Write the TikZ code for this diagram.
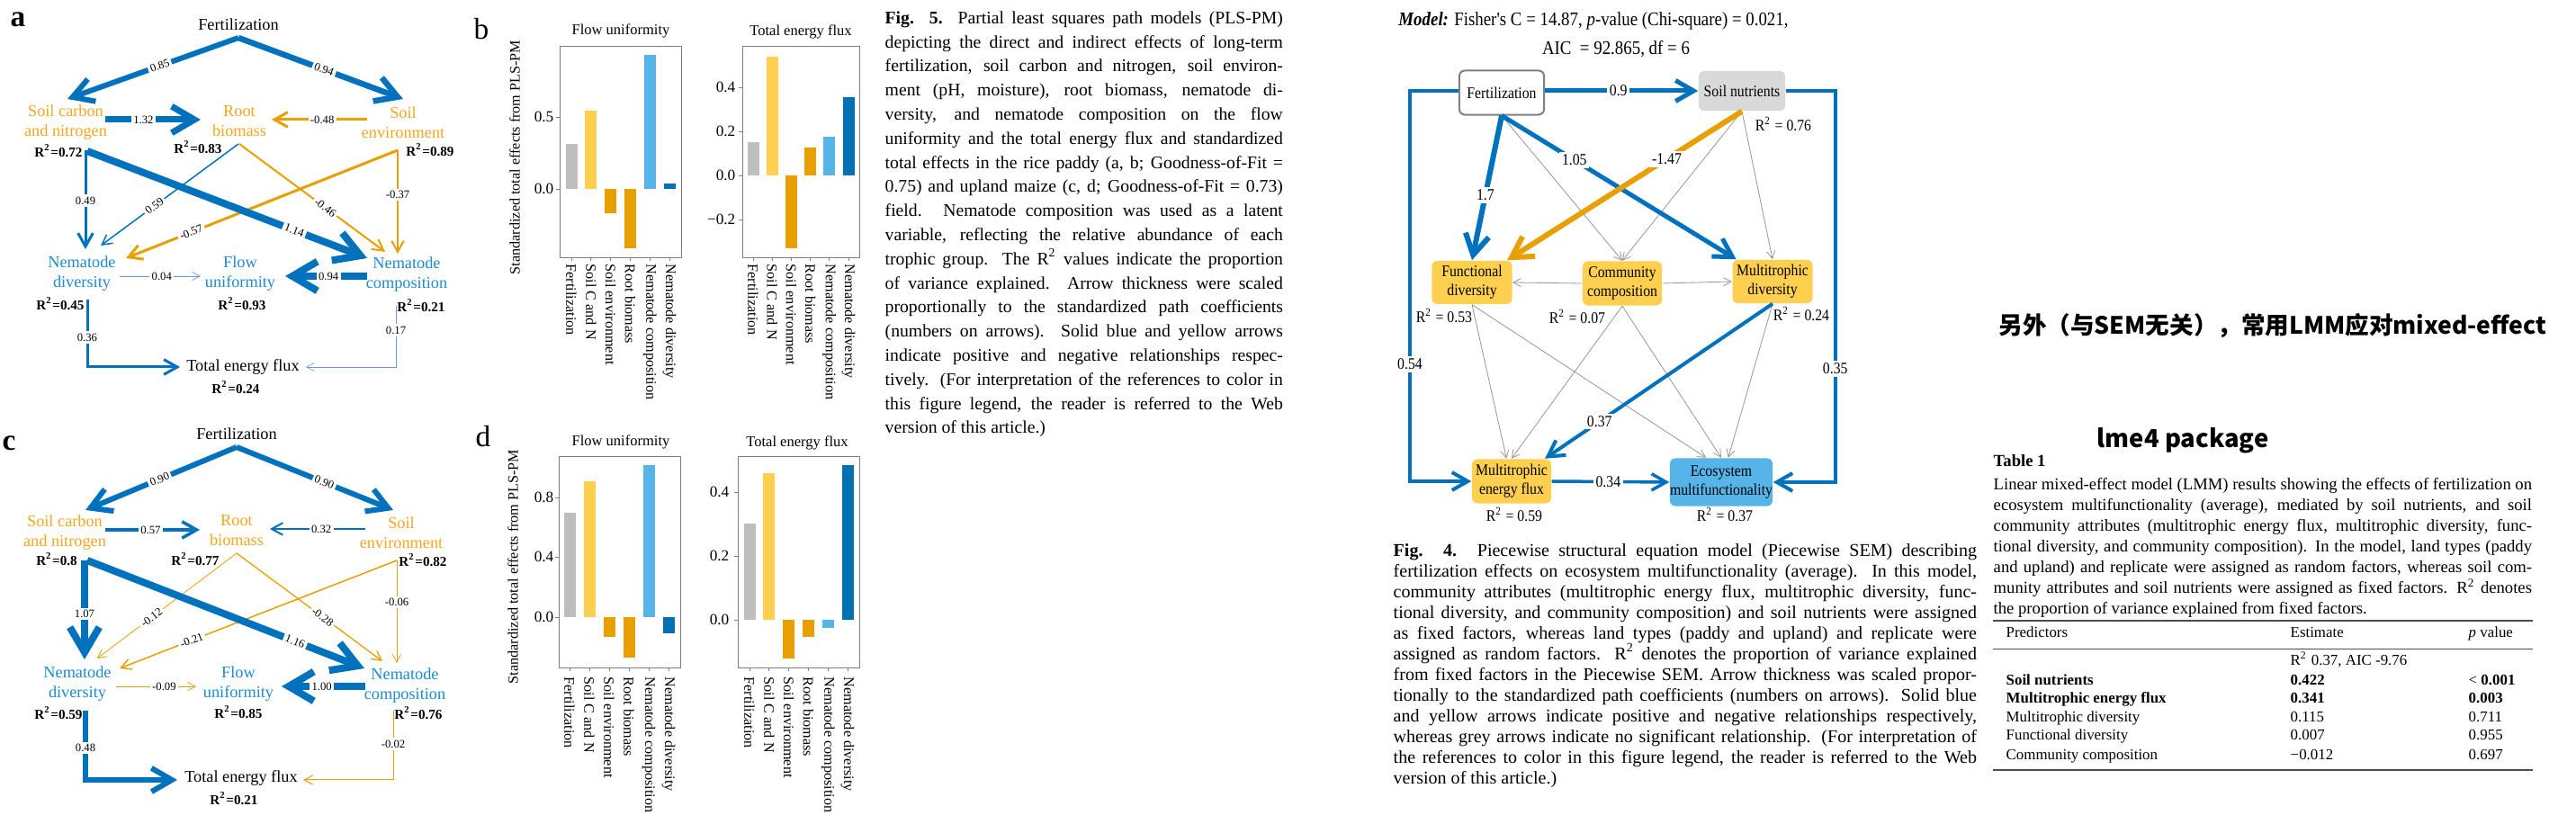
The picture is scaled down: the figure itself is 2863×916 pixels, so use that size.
\documentclass[tikz,border=0pt]{standalone}
\usepackage{fontspec}
\setmainfont{Liberation Serif}
\newfontfamily\semfont[FakeStretch=0.88]{Liberation Serif}
\newfontfamily\cjk{Noto Sans CJK SC}
\usepackage{tikz}
\usetikzlibrary{arrows.meta, calc}

\definecolor{pblue}{RGB}{0,114,189}
\definecolor{porange}{RGB}{232,160,0}
\definecolor{tblue}{RGB}{28,140,206}
\definecolor{torange}{RGB}{246,166,30}
\definecolor{lblue}{RGB}{110,150,225}
\definecolor{bgray}{RGB}{190,190,190}
\definecolor{byellow}{RGB}{255,208,80}
\definecolor{bsky}{RGB}{86,180,233}
\definecolor{bdark}{RGB}{0,114,178}
\definecolor{agray}{RGB}{150,150,150}
\definecolor{ngray}{RGB}{217,217,217}

\newdimen\pxu \pxu=0.2845pt
\newlength\capw
\newcommand\capline[1]{\makebox[\capw][s]{#1}\\}
\newcommand\barnames{Fertilization,Soil C and N,Soil environment,Root biomass,Nematode composition,Nematode diversity}

\begin{document}
\begin{tikzpicture}[
  x=0.01cm, y=-0.01cm,
  lw/.style={line width=#1\pxu},
  line/.style={draw, -{Straight Barb[length=2pt 2.6, width=2pt 3.2]}},
  gline/.style={draw=agray, lw=0.8, -{Straight Barb[length=2.4pt, width=2.6pt]}},
  coef/.style={fill=white, text=black, inner sep=0.7pt, font=\fontsize{3.6}{4}\selectfont},
  var/.style={align=center, inner sep=0pt, font=\fontsize{5.2}{6.3}\selectfont},
  rsq/.style={inner sep=0pt, font=\fontsize{4.3}{5}\selectfont\bfseries},
  panel/.style={inner sep=0pt, font=\fontsize{9.5}{10}\selectfont\bfseries},
  axbox/.style={draw=gray, lw=0.8},
  ticklab/.style={anchor=east, inner sep=0pt, font=\fontsize{4.9}{5}\selectfont},
  xlab/.style={rotate=-90, anchor=west, inner sep=0pt, font=\fontsize{4.6}{5}\selectfont},
  ylab/.style={rotate=90, inner sep=0pt, font=\fontsize{4.6}{5}\selectfont},
  ttl/.style={inner sep=0pt, font=\fontsize{4.7}{5}\selectfont},
  capt/.style={anchor=north west, inner sep=0pt, align=left},
  sembox/.style={rectangle, rounded corners=6\pxu, align=center, inner sep=0pt,
     minimum width=89\pxu, minimum height=48\pxu, font=\fontsize{5.1}{5.9}\selectfont\semfont},
  stxt/.style={inner sep=0pt, font=\fontsize{5.1}{6}\selectfont\semfont},
  scoef/.style={fill=white, text=black, inner sep=0.8pt, font=\fontsize{5.1}{6}\selectfont\semfont},
  tcell/.style={anchor=base west, inner sep=0pt, font=\fontsize{4.8}{6}\selectfont}
]
\fill[white] (0,0) rectangle (2863,916);
\useasboundingbox (0,0) rectangle (2863,916);

% =======================================================
%                 PANEL a  (rice paddy)
% =======================================================
\node[panel] (alab) at (20,22) {a};
\node[var] (afert) at (265,27) {Fertilization};
\node[var, text=torange] (acn) at (73,136) {Soil carbon\\and nitrogen};
\node[var, text=torange] (aroot) at (266,135) {Root\\biomass};
\node[var, text=torange] (aenv) at (448,136) {Soil\\environment};
\node[var, text=tblue] (adiv) at (91,304) {Nematode\\diversity};
\node[var, text=tblue] (aflow) at (267,304) {Flow\\uniformity};
\node[var, text=tblue] (acomp) at (452,305) {Nematode\\composition};
\node[var] (atot) at (270,408) {Total energy flux};
\node[rsq] (acnr) at (65,168) {R\textsuperscript{2}=0.72};
\node[rsq] (arootr) at (220,164) {R\textsuperscript{2}=0.83};
\node[rsq] (aenvr) at (478,167) {R\textsuperscript{2}=0.89};
\node[rsq] (adivr) at (67,338) {R\textsuperscript{2}=0.45};
\node[rsq] (aflowr) at (269,338) {R\textsuperscript{2}=0.93};
\node[rsq] (acompr) at (468,340) {R\textsuperscript{2}=0.21};
\node[rsq] (atotr) at (262,431) {R\textsuperscript{2}=0.24};

% paths a
\draw[line, pblue, lw=6] ($(afert)+(0,15)$) -- node[coef, sloped, pos=0.46] {0.85} ($(acn)+(2,-26)$);
\draw[line, pblue, lw=6.5] ($(afert)+(0,15)$) -- node[coef, sloped, pos=0.52] {0.94} ($(aenv)+(0,-26)$);
\draw[line, pblue, lw=7] ($(acn)+(44,-3)$) -- node[coef, pos=0.4] {1.32} ($(aroot)+(-43,-2)$);
\draw[line, porange, lw=3] ($(aenv)+(-40,-3)$) -- node[coef, pos=0.47] {-0.48} ($(aroot)+(36,-2)$);
\draw[line, pblue, lw=1.5] ($(aroot)+(-1,25)$) -- node[coef, sloped, pos=0.61] {0.59} ($(adiv)+(21,-31)$);
\draw[line, porange, lw=2] ($(aroot)+(0,25)$) -- node[coef, sloped, pos=0.59] {-0.46} ($(acomp)+(-24,-25)$);
\draw[line, porange, lw=3] ($(aenv)+(-6,31)$) -- node[coef, sloped, pos=0.76] {-0.57} ($(adiv)+(49,-17)$);
\draw[line, porange, lw=2] ($(aenv)+(-6,31)$) -- node[coef, pos=0.43] {-0.37} ($(acomp)+(-10,-23)$);
\draw[line, pblue, lw=3] ($(acn)+(22,31)$) -- node[coef, pos=0.51] {0.49} ($(adiv)+(4,-27)$);
\draw[line, pblue, lw=8] ($(acn)+(24,32)$) -- node[coef, sloped, pos=0.74] {1.14} ($(acomp)+(-44,-18)$);
\draw[line, lblue, lw=0.7] ($(adiv)+(42,3)$) -- node[coef, pos=0.52] {0.04} ($(aflow)+(-44,3)$);
\draw[line, pblue, lw=8] ($(acomp)+(-44,2)$) -- node[coef, pos=0.47] {0.94} ($(aflow)+(50,3)$);
\draw[line, pblue, lw=3] ($(adiv)+(6,29)$) |- node[coef, pos=0.28] {0.36} ($(atot)+(-70,0)$);
\draw[line, lblue, lw=0.6] ($(acomp)+(-12,35)$) |- node[coef, pos=0.2] {0.17} ($(atot)+(70,0)$);

% =======================================================
%                 PANEL c  (upland maize)
% =======================================================
\node[panel] (clab) at (10,493) {c};
\node[var] (cfert) at (263,482) {Fertilization};
\node[var, text=torange] (ccn) at (72,592) {Soil carbon\\and nitrogen};
\node[var, text=torange] (croot) at (263,590) {Root\\biomass};
\node[var, text=torange] (cenv) at (446,592) {Soil\\environment};
\node[var, text=tblue] (cdiv) at (86,760) {Nematode\\diversity};
\node[var, text=tblue] (cflow) at (265,760) {Flow\\uniformity};
\node[var, text=tblue] (ccomp) at (450,762) {Nematode\\composition};
\node[var] (ctot) at (268,865) {Total energy flux};
\node[rsq] (ccnr) at (63,622) {R\textsuperscript{2}=0.8};
\node[rsq] (crootr) at (217,622) {R\textsuperscript{2}=0.77};
\node[rsq] (cenvr) at (470,623) {R\textsuperscript{2}=0.82};
\node[rsq] (cdivr) at (65,793) {R\textsuperscript{2}=0.59};
\node[rsq] (cflowr) at (265,792) {R\textsuperscript{2}=0.85};
\node[rsq] (ccompr) at (465,793) {R\textsuperscript{2}=0.76};
\node[rsq] (ctotr) at (260,888) {R\textsuperscript{2}=0.21};

% paths c
\draw[line, pblue, lw=6] ($(cfert)+(0,15)$) -- node[coef, sloped, pos=0.51] {0.90} ($(ccn)+(23,-25)$);
\draw[line, pblue, lw=6] ($(cfert)+(0,15)$) -- node[coef, sloped, pos=0.56] {0.90} ($(cenv)+(-9,-25)$);
\draw[line, pblue, lw=3.5] ($(ccn)+(45,-3)$) -- node[coef, pos=0.48] {0.57} ($(croot)+(-41,-1)$);
\draw[line, pblue, lw=2] ($(cenv)+(-40,-4)$) -- node[coef, pos=0.46] {0.32} ($(croot)+(37,-2)$);
\draw[line, porange, lw=0.8] ($(croot)+(0,25)$) -- node[coef, sloped, pos=0.61] {-0.12} ($(cdiv)+(22,-28)$);
\draw[line, porange, lw=1.3] ($(croot)+(0,25)$) -- node[coef, sloped, pos=0.59] {-0.28} ($(ccomp)+(-25,-27)$);
\draw[line, porange, lw=1.5] ($(cenv)+(-5,31)$) -- node[coef, sloped, pos=0.74] {-0.21} ($(cdiv)+(47,-17)$);
\draw[line, porange, lw=0.7] ($(cenv)+(-5,31)$) -- node[coef, pos=0.41] {-0.06} ($(ccomp)+(-9,-25)$);
\draw[line, pblue, lw=8] ($(ccn)+(22,31)$) -- node[coef, pos=0.54] {1.07} ($(cdiv)+(8,-27)$);
\draw[line, pblue, lw=8] ($(ccn)+(25,31)$) -- node[coef, sloped, pos=0.75] {1.16} ($(ccomp)+(-45,-19)$);
\draw[line, porange, lw=0.7] ($(cdiv)+(43,3)$) -- node[coef, pos=0.6] {-0.09} ($(cflow)+(-47,3)$);
\draw[line, pblue, lw=8] ($(ccomp)+(-44,1)$) -- node[coef, pos=0.52] {1.00} ($(cflow)+(48,3)$);
\draw[line, pblue, lw=6] ($(cdiv)+(9,30)$) |- node[coef, pos=0.27] {0.48} ($(ctot)+(-71,2)$);
\draw[line, porange, lw=1] ($(ccomp)+(-13,28)$) |- node[coef, pos=0.24] {-0.02} ($(ctot)+(69,2)$);

% =======================================================
%                 PANELS b and d  (total effects)
% =======================================================
\node[panel, font=\fontsize{9.5}{10}\selectfont] (blab) at (535,32) {b};
\node[ylab] (buy) at (572,175) {Standardized total effects from PLS-PM};
\node[ttl] (but) at (690,34) {Flow uniformity};
\draw[axbox] (622,51) rectangle (757,286);
\foreach \y/\t in {130/0.5, 210/0.0} {
  \draw[axbox] (622,\y) -- ++(-4,0);
  \node[ticklab] (bu\y) at (616,\y) {\t};
}
\foreach \v/\c [count=\i from 0] in {0.31/bgray, 0.545/byellow, -0.17/porange, -0.41/porange, 0.93/bsky, 0.04/bdark} {
  \fill[\c] ({635+21.8*\i-6.5},210) rectangle ++(13,{-160*\v});
  \draw[axbox] ({635+21.8*\i},286) -- ++(0,4);
}
\foreach \t [count=\i from 0] in \barnames
  \node[xlab] (bux\i) at ({635+21.8*\i},293) {\t};

\node[ttl] (bet) at (890,35) {Total energy flux};
\draw[axbox] (825,51) rectangle (955,286);
\foreach \y/\t in {97/0.4, 146/0.2, 195/0.0, 244/−0.2} {
  \draw[axbox] (825,\y) -- ++(-4,0);
  \node[ticklab] (be\y) at (818,\y) {\t};
}
\foreach \v/\c [count=\i from 0] in {0.15/bgray, 0.54/byellow, -0.33/porange, 0.127/porange, 0.176/bsky, 0.355/bdark} {
  \fill[\c] ({837+21.2*\i-6.5},195) rectangle ++(13,{-245*\v});
  \draw[axbox] ({837+21.2*\i},286) -- ++(0,4);
}
\foreach \t [count=\i from 0] in \barnames
  \node[xlab] (bex\i) at ({837+21.2*\i},293) {\t};

\node[panel, font=\fontsize{9.5}{10}\selectfont] (dlab) at (537,485) {d};
\node[ylab] (duy) at (570,630) {Standardized total effects from PLS-PM};
\node[ttl] (dut) at (690,491) {Flow uniformity};
\draw[axbox] (621,507) rectangle (756,742);
\foreach \y/\t in {553/0.8, 619/0.4, 686/0.0} {
  \draw[axbox] (621,\y) -- ++(-4,0);
  \node[ticklab] (du\y) at (616,\y) {\t};
}
\foreach \v/\c [count=\i from 0] in {0.70/bgray, 0.91/byellow, -0.13/porange, -0.27/porange, 1.02/bsky, -0.11/bdark} {
  \fill[\c] ({633+22*\i-6.5},686) rectangle ++(13,{-166*\v});
  \draw[axbox] ({633+22*\i},742) -- ++(0,4);
}
\foreach \t [count=\i from 0] in \barnames
  \node[xlab] (dux\i) at ({633+22*\i},752) {\t};

\node[ttl] (det) at (886,492) {Total energy flux};
\draw[axbox] (820,507) rectangle (955,742);
\foreach \y/\t in {547/0.4, 618/0.2, 689/0.0} {
  \draw[axbox] (820,\y) -- ++(-4,0);
  \node[ticklab] (de\y) at (811,\y) {\t};
}
\foreach \v/\c [count=\i from 0] in {0.30/bgray, 0.46/byellow, -0.12/porange, -0.053/porange, -0.025/bsky, 0.485/bdark} {
  \fill[\c] ({833+21.8*\i-6.5},689) rectangle ++(13,{-355*\v});
  \draw[axbox] ({833+21.8*\i},742) -- ++(0,4);
}
\foreach \t [count=\i from 0] in \barnames
  \node[xlab] (dex\i) at ({833+21.8*\i},752) {\t};

% =======================================================
%                 CAPTION OF FIG. 5
% =======================================================
\node[capt, font={\fontsize{5.6}{7.62}\selectfont\capw=442\pxu}] (capfive) at (983,12) {%
\capline{\textbf{Fig. 5.} Partial least squares path models (PLS-PM)}
\capline{depicting the direct and indirect effects of long-term}
\capline{fertilization, soil carbon and nitrogen, soil environ-}
\capline{ment (pH, moisture), root biomass, nematode di-}
\capline{versity, and nematode composition on the flow}
\capline{uniformity and the total energy flux and standardized}
\capline{total effects in the rice paddy (a, b; Goodness-of-Fit =}
\capline{0.75) and upland maize (c, d; Goodness-of-Fit = 0.73)}
\capline{field. Nematode composition was used as a latent}
\capline{variable, reflecting the relative abundance of each}
\capline{trophic group. The R\textsuperscript{2} values indicate the proportion}
\capline{of variance explained. Arrow thickness were scaled}
\capline{proportionally to the standardized path coefficients}
\capline{(numbers on arrows). Solid blue and yellow arrows}
\capline{indicate positive and negative relationships respec-}
\capline{tively. (For interpretation of the references to color in}
\capline{this figure legend, the reader is referred to the Web}
version of this article.)};

% =======================================================
%                 PIECEWISE SEM (Fig. 4)
% =======================================================
\node[stxt, font=\fontsize{6.1}{7}\selectfont\semfont] (smodel) at (1771,23) {\textbf{\textit{Model:}} Fisher's C = 14.87, \textit{p}-value (Chi-square) = 0.021,};
\node[stxt, font=\fontsize{6.1}{7}\selectfont\semfont] (saic) at (1796,55) {AIC \ = 92.865, df = 6};

\node[sembox, fill=white, draw=gray, lw=2, minimum width=94\pxu, minimum height=49\pxu] (sfert) at (1669,103) {Fertilization};
\node[sembox, fill=ngray, minimum width=96\pxu, minimum height=44\pxu] (snut) at (1936,101) {Soil nutrients};
\node[sembox, fill=byellow] (sfun) at (1636,314) {Functional\\diversity};
\node[sembox, fill=byellow, minimum width=88\pxu, minimum height=49\pxu] (scom) at (1803,315) {Community\\composition};
\node[sembox, fill=byellow] (smdiv) at (1970,313) {Multitrophic\\diversity};
\node[sembox, fill=byellow, minimum width=88\pxu, minimum height=49\pxu] (smef) at (1680,535) {Multitrophic\\energy flux};
\node[sembox, fill=bsky, minimum width=114\pxu, minimum height=53\pxu] (seco) at (1913,536) {Ecosystem\\multifunctionality};

\node[stxt] (snutr) at (1982,138) {R\textsuperscript{2} = 0.76};
\node[stxt] (sfunr) at (1605,351) {R\textsuperscript{2} = 0.53};
\node[stxt] (scomr) at (1753,352) {R\textsuperscript{2} = 0.07};
\node[stxt] (smdivr) at (2002,349) {R\textsuperscript{2} = 0.24};
\node[stxt] (smefr) at (1683,572) {R\textsuperscript{2} = 0.59};
\node[stxt] (secor) at (1917,572) {R\textsuperscript{2} = 0.37};

% non-significant paths
\draw[gline] (sfert.south) -- (scom.north);
\draw[gline] (snut.south) -- (scom.north);
\draw[gline] (snut.south) -- (smdiv.north);
\draw[gline] (scom.west) -- (sfun.east);
\draw[gline] (scom.east) -- (smdiv.west);
\draw[gline] (sfun.south) -- (smef);
\draw[gline] (sfun.south) -- ($(seco.north)+(-17,0)$);
\draw[gline] (scom.south) -- (smef.north);
\draw[gline] (scom.south) -- (seco.north);
\draw[gline] (smdiv.south) -- (seco);

% significant paths
\draw[line, pblue, lw=5] (sfert.east |- snut) -- node[scoef, pos=0.48] {0.9} (snut.west);
\draw[line, pblue, lw=4] (sfert.west |- snut) -- ++(-54,0) |- node[scoef, pos=0.35] {0.54} (smef.west);
\draw[line, pblue, lw=4] (snut.east) -- ++(55,0) |- node[scoef, pos=0.355] {0.35} (seco.east);
\draw[line, pblue, lw=6] (sfert.south) -- node[scoef, pos=0.55] {1.7} (sfun.north);
\draw[line, pblue, lw=5] (sfert.south) -- node[scoef, pos=0.31] {1.05} (smdiv);
\draw[line, porange, lw=6] (snut.south) -- node[scoef, pos=0.32] {-1.47} (sfun);
\draw[line, pblue, lw=4] (smdiv.south) -- node[scoef, pos=0.76] {0.37} (smef);
\draw[line, pblue, lw=3.5] (smef.east) -- node[scoef, pos=0.48] {0.34} (seco.west);

% caption of Fig. 4
\node[capt, font={\fontsize{5.7}{6.54}\selectfont\capw=648\pxu}] (capfour) at (1548,604) {%
\capline{\textbf{Fig. 4.} Piecewise structural equation model (Piecewise SEM) describing}
\capline{fertilization effects on ecosystem multifunctionality (average). In this model,}
\capline{community attributes (multitrophic energy flux, multitrophic diversity, func-}
\capline{tional diversity, and community composition) and soil nutrients were assigned}
\capline{as fixed factors, whereas land types (paddy and upland) and replicate were}
\capline{assigned as random factors. R\textsuperscript{2} denotes the proportion of variance explained}
\capline{from fixed factors in the Piecewise SEM. Arrow thickness was scaled propor-}
\capline{tionally to the standardized path coefficients (numbers on arrows). Solid blue}
\capline{and yellow arrows indicate positive and negative relationships respectively,}
\capline{whereas grey arrows indicate no significant relationship. (For interpretation of}
\capline{the references to color in this figure legend, the reader is referred to the Web}
version of this article.)};

% =======================================================
%                 NOTE AND TABLE 1
% =======================================================
\node[anchor=west, inner sep=0pt, font=\fontsize{7.55}{9}\selectfont\cjk\bfseries] (cnnote) at (2221,362) {另外（与SEM无关），常用LMM应对mixed-effect};
\node[anchor=west, inner sep=0pt, font=\fontsize{7.8}{9}\selectfont\cjk\bfseries] (lmefour) at (2330,490) {lme4 package};
\node[anchor=base west, inner sep=0pt, font=\fontsize{5.3}{6}\selectfont\bfseries] (tabno) at (2215,519) {Table 1};
\node[capt, font={\fontsize{5.3}{6.54}\selectfont\capw=598\pxu}] (tabcap) at (2215,531) {%
\capline{Linear mixed-effect model (LMM) results showing the effects of fertilization on}
\capline{ecosystem multifunctionality (average), mediated by soil nutrients, and soil}
\capline{community attributes (multitrophic energy flux, multitrophic diversity, func-}
\capline{tional diversity, and community composition). In the model, land types (paddy}
\capline{and upland) and replicate were assigned as random factors, whereas soil com-}
\capline{munity attributes and soil nutrients were assigned as fixed factors. R\textsuperscript{2} denotes}
the proportion of variance explained from fixed factors.};

\draw[gray!60!black, lw=1.3] (2215,690) -- (2815,690);
\draw[gray!60!black, lw=1] (2215,722) -- (2815,722);
\draw[gray!60!black, lw=1.3] (2215,856) -- (2815,856);
\node[tcell] (thpred) at (2229,709) {Predictors};
\node[tcell] (thest) at (2545,709) {Estimate};
\node[tcell] (thp) at (2743,709) {\textit{p} value};
\node[tcell] (tfit) at (2545,740) {R\textsuperscript{2} 0.37, AIC -9.76};
\node[tcell, font=\fontsize{4.8}{6}\selectfont\bfseries] (tr1a) at (2229,762) {Soil nutrients};
\node[tcell, font=\fontsize{4.8}{6}\selectfont\bfseries] (tr1b) at (2545,762) {0.422};
\node[tcell] (tr1c) at (2743,762) {< \textbf{0.001}};
\node[tcell, font=\fontsize{4.8}{6}\selectfont\bfseries] (tr2a) at (2229,782) {Multitrophic energy flux};
\node[tcell, font=\fontsize{4.8}{6}\selectfont\bfseries] (tr2b) at (2545,782) {0.341};
\node[tcell, font=\fontsize{4.8}{6}\selectfont\bfseries] (tr2c) at (2743,782) {0.003};
\node[tcell] (tr3a) at (2229,803) {Multitrophic diversity};
\node[tcell] (tr3b) at (2545,803) {0.115};
\node[tcell] (tr3c) at (2743,803) {0.711};
\node[tcell] (tr4a) at (2229,823) {Functional diversity};
\node[tcell] (tr4b) at (2545,823) {0.007};
\node[tcell] (tr4c) at (2743,823) {0.955};
\node[tcell] (tr5a) at (2229,844) {Community composition};
\node[tcell] (tr5b) at (2545,844) {−0.012};
\node[tcell] (tr5c) at (2743,844) {0.697};

\end{tikzpicture}
\end{document}
